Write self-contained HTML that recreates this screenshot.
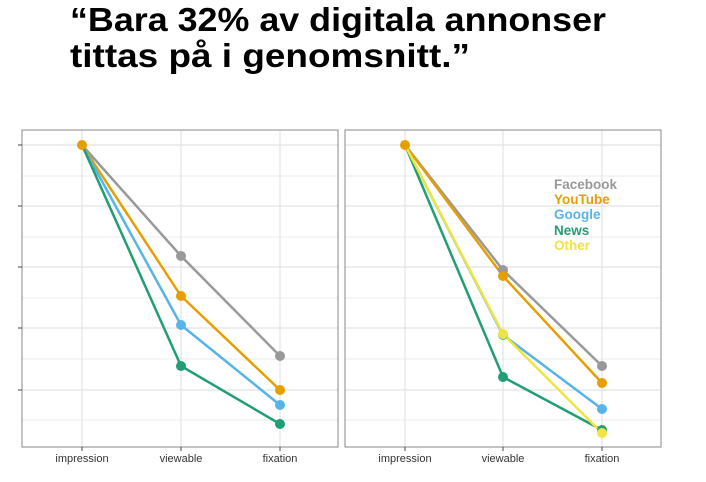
<!DOCTYPE html>
<html><head><meta charset="utf-8"><style>html,body{margin:0;padding:0;background:#fff}svg{display:block}</style></head>
<body>
<svg width="706" height="482" xmlns="http://www.w3.org/2000/svg" font-family="Liberation Sans, sans-serif">
<rect width="706" height="482" fill="#fff"/>
<text x="70" y="31" font-size="33" font-weight="bold" fill="#000" textLength="536" lengthAdjust="spacingAndGlyphs">“Bara 32% av digitala annonser</text>
<text x="70" y="67" font-size="33" font-weight="bold" fill="#000" textLength="400" lengthAdjust="spacingAndGlyphs">tittas på i genomsnitt.”</text>
<g stroke="#ebebeb" stroke-width="1">
<line x1="22" x2="338" y1="176" y2="176"/><line x1="22" x2="338" y1="237" y2="237"/><line x1="22" x2="338" y1="298" y2="298"/><line x1="22" x2="338" y1="359" y2="359"/><line x1="22" x2="338" y1="420" y2="420"/>
<line x1="345" x2="661" y1="176" y2="176"/><line x1="345" x2="661" y1="237" y2="237"/><line x1="345" x2="661" y1="298" y2="298"/><line x1="345" x2="661" y1="359" y2="359"/><line x1="345" x2="661" y1="420" y2="420"/>
</g>
<g stroke="#e2e2e2" stroke-width="1.2">
<line x1="22" x2="338" y1="145" y2="145"/><line x1="22" x2="338" y1="206" y2="206"/><line x1="22" x2="338" y1="267" y2="267"/><line x1="22" x2="338" y1="328" y2="328"/><line x1="22" x2="338" y1="390" y2="390"/>
<line x1="82" x2="82" y1="130" y2="447"/><line x1="181" x2="181" y1="130" y2="447"/><line x1="280" x2="280" y1="130" y2="447"/>
<line x1="345" x2="661" y1="145" y2="145"/><line x1="345" x2="661" y1="206" y2="206"/><line x1="345" x2="661" y1="267" y2="267"/><line x1="345" x2="661" y1="328" y2="328"/><line x1="345" x2="661" y1="390" y2="390"/>
<line x1="405" x2="405" y1="130" y2="447"/><line x1="503" x2="503" y1="130" y2="447"/><line x1="602" x2="602" y1="130" y2="447"/>
</g>
<rect x="22" y="130" width="316" height="317" fill="none" stroke="#888" stroke-width="1"/>
<rect x="345" y="130" width="316" height="317" fill="none" stroke="#888" stroke-width="1"/>
<g stroke="#444" stroke-width="1">
<line x1="18" x2="22" y1="145" y2="145"/><line x1="18" x2="22" y1="206" y2="206"/><line x1="18" x2="22" y1="267" y2="267"/><line x1="18" x2="22" y1="328" y2="328"/><line x1="18" x2="22" y1="390" y2="390"/>
<line x1="82" x2="82" y1="447" y2="451"/><line x1="181" x2="181" y1="447" y2="451"/><line x1="280" x2="280" y1="447" y2="451"/>
<line x1="405" x2="405" y1="447" y2="451"/><line x1="503" x2="503" y1="447" y2="451"/><line x1="602" x2="602" y1="447" y2="451"/>
</g>
<g font-size="11" fill="#333" text-anchor="middle">
<text x="82" y="462">impression</text><text x="181" y="462">viewable</text><text x="280" y="462">fixation</text>
<text x="405" y="462">impression</text><text x="503" y="462">viewable</text><text x="602" y="462">fixation</text>
</g>
<g fill="none" stroke-width="2.5">
<polyline points="82,145 181,256 280,356" stroke="#999"/>
<polyline points="82,145 181,296 280,390" stroke="#e69f00"/>
<polyline points="82,145 181,325 280,405" stroke="#56b4e9"/>
<polyline points="82,145 181,366 280,424" stroke="#229e73"/>
<polyline points="405,145 503,270 602,366" stroke="#999"/>
<polyline points="405,145 503,276 602,383" stroke="#e69f00"/>
<polyline points="405,145 503,335 602,409" stroke="#56b4e9"/>
<polyline points="405,145 503,377 602,430" stroke="#229e73"/>
<polyline points="405,145 503,334 602,433" stroke="#f0e442"/>
</g>
<g>
<circle cx="181" cy="256" r="5" fill="#999"/><circle cx="280" cy="356" r="5" fill="#999"/>
<circle cx="181" cy="296" r="5" fill="#e69f00"/><circle cx="280" cy="390" r="5" fill="#e69f00"/>
<circle cx="181" cy="325" r="5" fill="#56b4e9"/><circle cx="280" cy="405" r="5" fill="#56b4e9"/>
<circle cx="181" cy="366" r="5" fill="#229e73"/><circle cx="280" cy="424" r="5" fill="#229e73"/>
<circle cx="82" cy="145" r="5" fill="#e69f00"/>
<circle cx="503" cy="270" r="5" fill="#999"/><circle cx="602" cy="366" r="5" fill="#999"/>
<circle cx="503" cy="276" r="5" fill="#e69f00"/><circle cx="602" cy="383" r="5" fill="#e69f00"/>
<circle cx="503" cy="335" r="5" fill="#56b4e9"/><circle cx="602" cy="409" r="5" fill="#56b4e9"/>
<circle cx="503" cy="377" r="5" fill="#229e73"/><circle cx="602" cy="430" r="5" fill="#229e73"/>
<circle cx="503" cy="334" r="5" fill="#f0e442"/><circle cx="602" cy="433" r="5" fill="#f0e442"/>
<circle cx="405" cy="145" r="5" fill="#e69f00"/>
</g>
<g font-size="13.5" font-weight="bold">
<text x="554" y="189" fill="#999">Facebook</text>
<text x="554" y="204" fill="#e69f00">YouTube</text>
<text x="554" y="219" fill="#56b4e9">Google</text>
<text x="554" y="235" fill="#229e73">News</text>
<text x="554" y="250" fill="#f0e442">Other</text>
</g>
</svg>
</body></html>
